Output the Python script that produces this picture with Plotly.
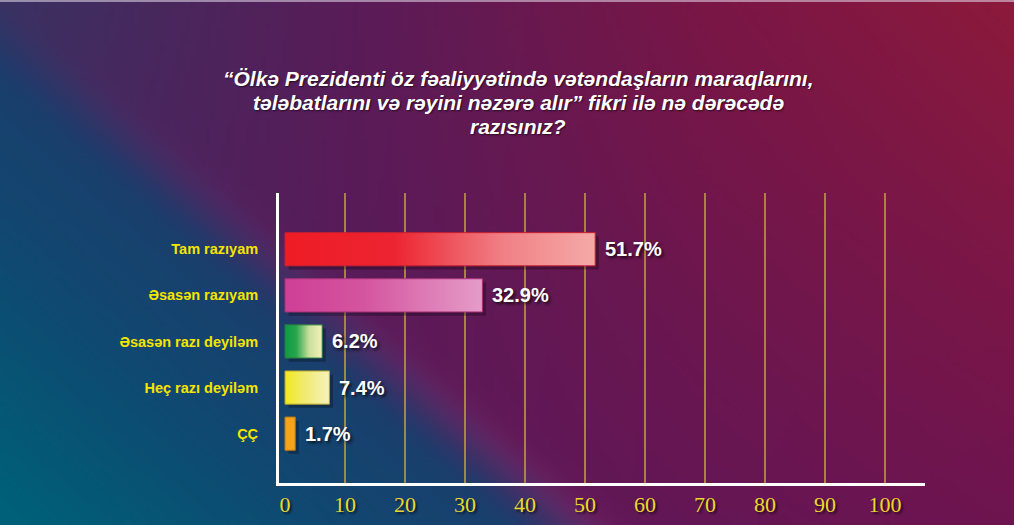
"""Survey bar chart (horizontal, gradient bars) on a gradient backdrop."""

import base64
import struct
import zlib

import numpy as np
import plotly.graph_objects as go

W, H = 1014, 525

title_lines = [
    "“Ölkə Prezidenti öz fəaliyyətində vətəndaşların maraqlarını,",
    "tələbatlarını və rəyini nəzərə alır” fikri ilə nə dərəcədə",
    "razısınız?",
]
categories = [
    "Tam razıyam",
    "Əsasən razıyam",
    "Əsasən razı deyiləm",
    "Heç razı deyiləm",
    "ÇÇ",
]
values = [51.7, 32.9, 6.2, 7.4, 1.7]
x_ticks = [0, 10, 20, 30, 40, 50, 60, 70, 80, 90, 100]

bar_scales = [
    [[0, "#ee1c25"], [0.35, "#ec2431"], [0.7, "#f07f84"], [1, "#f5aaa8"]],
    [[0, "#cf3f96"], [0.4, "#d4559f"], [1, "#e59cc9"]],
    [[0, "#0f9a45"], [0.3, "#26a54c"], [0.65, "#c9df9a"], [1, "#f4f1b8"]],
    [[0, "#f1e91c"], [0.4, "#f1ea6a"], [1, "#f5f2bd"]],
    [[0, "#f7a21b"], [1, "#f7a21b"]],
]
bar_edges = ["#c8202f", "#a83278", "#2a7a40", "#b4a82a", "#c07a10"]


def hex_rgb(h):
    h = h.lstrip("#")
    return np.array([int(h[i:i + 2], 16) for i in (0, 2, 4)], dtype=float)


def ramp(t, stops, colors):
    cols = np.array([hex_rgb(c) for c in colors])
    return np.stack([np.interp(t, stops, cols[:, k]) for k in range(3)], axis=-1)


def smoothstep(a, b, x):
    t = np.clip((x - a) / (b - a), 0, 1)
    return t * t * (3 - 2 * t)


def background_png(w=200, h=104):
    u, v = np.meshgrid(np.linspace(0, 1, w), np.linspace(0, 1, h))
    top = ramp(u, [0, 0.35, 0.7, 1], ["#3a3262", "#5a1c58", "#7a1646", "#8c1a3c"])
    bot = ramp(u, [0, 0.5, 1], ["#4a2060", "#5e1858", "#6e1450"])
    warm = top + (bot - top) * v[..., None]
    s = v - (0.05 + 1.7 * u)
    depth = np.clip(s / 0.9, 0, 1)
    cool = ramp(depth, [0, 0.5, 1], ["#1e3c6c", "#0f4a72", "#006079"])
    b = smoothstep(-0.08, 0.12, s)[..., None]
    img = warm * (1 - b) + cool * b
    img += 10 * np.exp(-((s + 0.02) / 0.06) ** 2)[..., None] * v[..., None]
    img = np.clip(img, 0, 255).astype(np.uint8)

    raw = b"".join(b"\x00" + img[r].tobytes() for r in range(h))

    def chunk(tag, data):
        return (struct.pack(">I", len(data)) + tag + data
                + struct.pack(">I", zlib.crc32(tag + data) & 0xFFFFFFFF))

    png = (b"\x89PNG\r\n\x1a\n"
           + chunk(b"IHDR", struct.pack(">IIBBBBB", w, h, 8, 2, 0, 0, 0))
           + chunk(b"IDAT", zlib.compress(raw, 9))
           + chunk(b"IEND", b""))
    return "data:image/png;base64," + base64.b64encode(png).decode()


fig = go.Figure()

half = 0.36
for i, (cat, val) in enumerate(zip(categories, values)):
    # soft drop shadow behind each bar
    fig.add_trace(
        go.Scatter(
            x=[0.6, val + 0.6, val + 0.6, 0.6, 0.6],
            y=[i - half + 0.08, i - half + 0.08, i + half + 0.08,
               i + half + 0.08, i - half + 0.08],
            mode="lines", fill="toself", line_width=0,
            fillcolor="rgba(0,0,0,0.28)", hoverinfo="skip", showlegend=False,
        )
    )
    fig.add_trace(
        go.Scatter(
            x=[0, val, val, 0, 0],
            y=[i - half, i - half, i + half, i + half, i - half],
            mode="lines",
            fill="toself",
            fillgradient=dict(type="horizontal", colorscale=bar_scales[i]),
            line=dict(color=bar_edges[i], width=1),
            name=cat,
            hoverinfo="skip",
            showlegend=False,
        )
    )
    fig.add_annotation(
        x=val, y=i, text=f"{val}%", showarrow=False,
        xanchor="left", yanchor="middle", xshift=8,
        font=dict(family="Liberation Sans, Arial", size=20, color="white",
                  weight="bold", shadow="2px 2px 3px rgba(0,0,0,0.7)"),
    )

# title, one annotation per line to get the tight line spacing
for k, line in enumerate(title_lines):
    fig.add_annotation(
        x=518 / W, y=1 - (79 + 23.5 * k) / H, xref="paper", yref="paper",
        text=line, showarrow=False, height=23,
        xanchor="center", yanchor="middle", valign="middle",
        font=dict(family="Liberation Sans, Arial", size=21, color="white",
                  weight="bold", style="italic",
                  shadow="1px 1px 2px rgba(0,0,0,0.6)"),
    )

fig.add_layout_image(
    source=background_png(), xref="paper", yref="paper",
    x=0, y=1, sizex=1, sizey=1, sizing="stretch",
    xanchor="left", yanchor="top", layer="below",
)
fig.add_shape(
    type="rect", xref="paper", yref="paper", x0=0, x1=1, y0=1 - 2 / H, y1=1,
    line_width=0, fillcolor="rgba(230,220,235,0.55)",
)

fig.update_xaxes(
    domain=[279 / W, 925 / W],
    range=[-1, 106.67],
    tickvals=x_ticks,
    ticks="",
    ticklabelstandoff=0,
    tickfont=dict(family="Liberation Serif, Times New Roman", size=22,
                  color="#e8d82c", shadow="2px 2px 2px rgba(0,0,0,0.6)"),
    showgrid=True,
    gridcolor="rgba(196,164,58,0.75)",
    gridwidth=1.5,
    zeroline=True,
    zerolinecolor="rgba(0,0,0,0)",
    showline=True,
    linecolor="white",
    linewidth=3,
    fixedrange=True,
)
fig.update_yaxes(
    domain=[1 - 483 / H, 1 - 193 / H],
    range=[5.07, -1.22],
    tickvals=list(range(len(categories))),
    ticktext=categories,
    ticks="",
    ticklabelstandoff=15,
    tickfont=dict(family="Liberation Sans, Arial", size=14.5, color="#f5e400",
                  weight="bold"),
    showgrid=False,
    zeroline=False,
    showline=True,
    linecolor="white",
    linewidth=3,
    fixedrange=True,
)

fig.update_layout(
    width=W,
    height=H,
    margin=dict(l=0, r=0, t=0, b=0),
    paper_bgcolor="#4a2458",
    plot_bgcolor="rgba(0,0,0,0)",
    showlegend=False,
)

fig.write_html(
    "out.html",
    config={"displayModeBar": False},
    post_script="document.body.style.margin='0';document.body.style.overflow='hidden';",
)
